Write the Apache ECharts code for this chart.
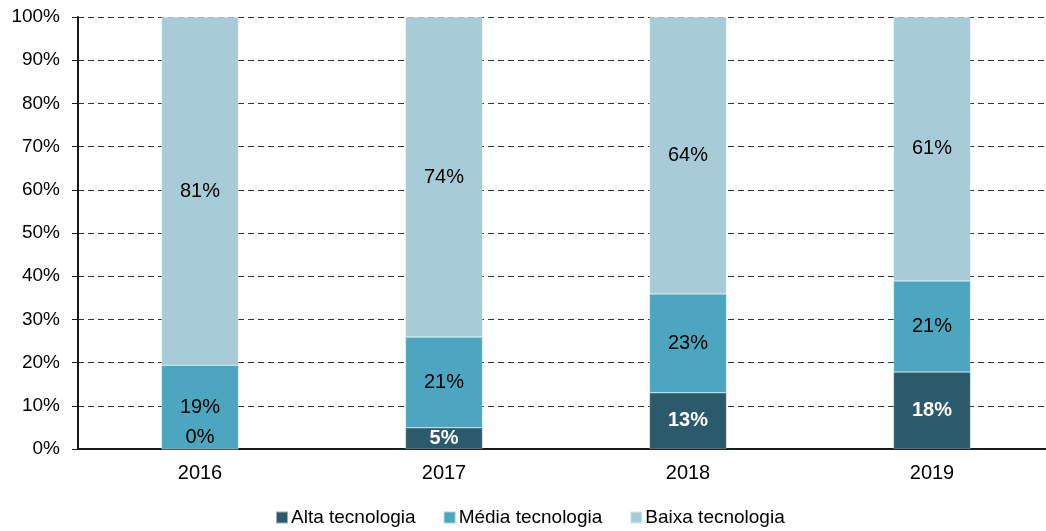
<!DOCTYPE html>
<html>
<head>
<meta charset="utf-8">
<script src="https://cdn.jsdelivr.net/npm/echarts@6/dist/echarts.min.js"></script>
<style>html,body{margin:0;padding:0;background:#fff;overflow:hidden;width:1046px;height:531px;}#c{width:1056px;height:531px;}</style>
</head>
<body>
<div id="c"></div>
<script>
var categories = ['2016', '2017', '2018', '2019'];
var alta = [0, 4.9, 13.0, 17.8];
var media = [19.4, 21.0, 22.9, 21.1];
var baixa = [80.6, 74.1, 64.1, 61.1];
var seriesNames = ['Alta tecnologia', 'Média tecnologia', 'Baixa tecnologia'];
var yTicks = [0, 10, 20, 30, 40, 50, 60, 70, 80, 90, 100];

var FONT = '"Liberation Sans", Arial, sans-serif';
var chart = echarts.init(document.getElementById('c'), null, {renderer: 'canvas'});
function fmt(p) { return Math.round(p.value) + '%'; }

var altaData = alta.map(function (v) {
  if (v === 0) {
    return {value: v, label: {position: 'top', distance: 1, color: '#000', fontWeight: 'normal'}};
  }
  return v;
});

chart.setOption({
  animation: false,
  textStyle: {fontFamily: FONT},
  grid: {left: 78, top: 17, width: 976, height: 432, containLabel: false},
  legend: {
    top: 503, left: 270,
    itemWidth: 12, itemHeight: 12, itemGap: 27,
    icon: 'rect',
    textStyle: {fontSize: 19, color: '#000', fontFamily: FONT, padding: [0, 0, 0, -2]},
    data: seriesNames
  },
  xAxis: {
    type: 'category', data: categories,
    axisLine: {lineStyle: {color: '#1a1a1a', width: 2}},
    axisTick: {show: false},
    axisLabel: {fontSize: 20, color: '#000', margin: 14, fontFamily: FONT}
  },
  yAxis: {
    type: 'value', min: 0, max: 100, interval: 10,
    axisLine: {show: true, lineStyle: {color: '#1a1a1a', width: 2}},
    axisTick: {show: true, length: 6, lineStyle: {color: '#1a1a1a', width: 1}},
    axisLabel: {fontSize: 19, color: '#000', margin: 18, fontFamily: FONT,
      formatter: function (v) { return yTicks.indexOf(v) >= 0 ? v + '%' : ''; }},
    splitLine: {show: true, lineStyle: {color: '#333', type: [6, 4], width: 1}}
  },
  series: [
    {name: seriesNames[0], type: 'bar', stack: 's', barWidth: 77, data: altaData,
      itemStyle: {color: '#2B5A6C', borderColor: 'rgba(255,255,255,0.5)', borderWidth: 0.5},
      label: {show: true, position: 'inside', formatter: fmt, color: '#fff', fontWeight: 'bold', fontSize: 20, fontFamily: FONT}},
    {name: seriesNames[1], type: 'bar', stack: 's', barWidth: 77, data: media,
      itemStyle: {color: '#4CA6BF', borderColor: 'rgba(255,255,255,0.5)', borderWidth: 0.5},
      label: {show: true, position: 'inside', formatter: fmt, color: '#000', fontSize: 20, fontFamily: FONT}},
    {name: seriesNames[2], type: 'bar', stack: 's', barWidth: 77, data: baixa,
      itemStyle: {color: '#A8CCD7', borderColor: 'rgba(255,255,255,0.5)', borderWidth: 0.5},
      label: {show: true, position: 'inside', formatter: fmt, color: '#000', fontSize: 20, fontFamily: FONT}}
  ]
});
</script>
</body>
</html>
